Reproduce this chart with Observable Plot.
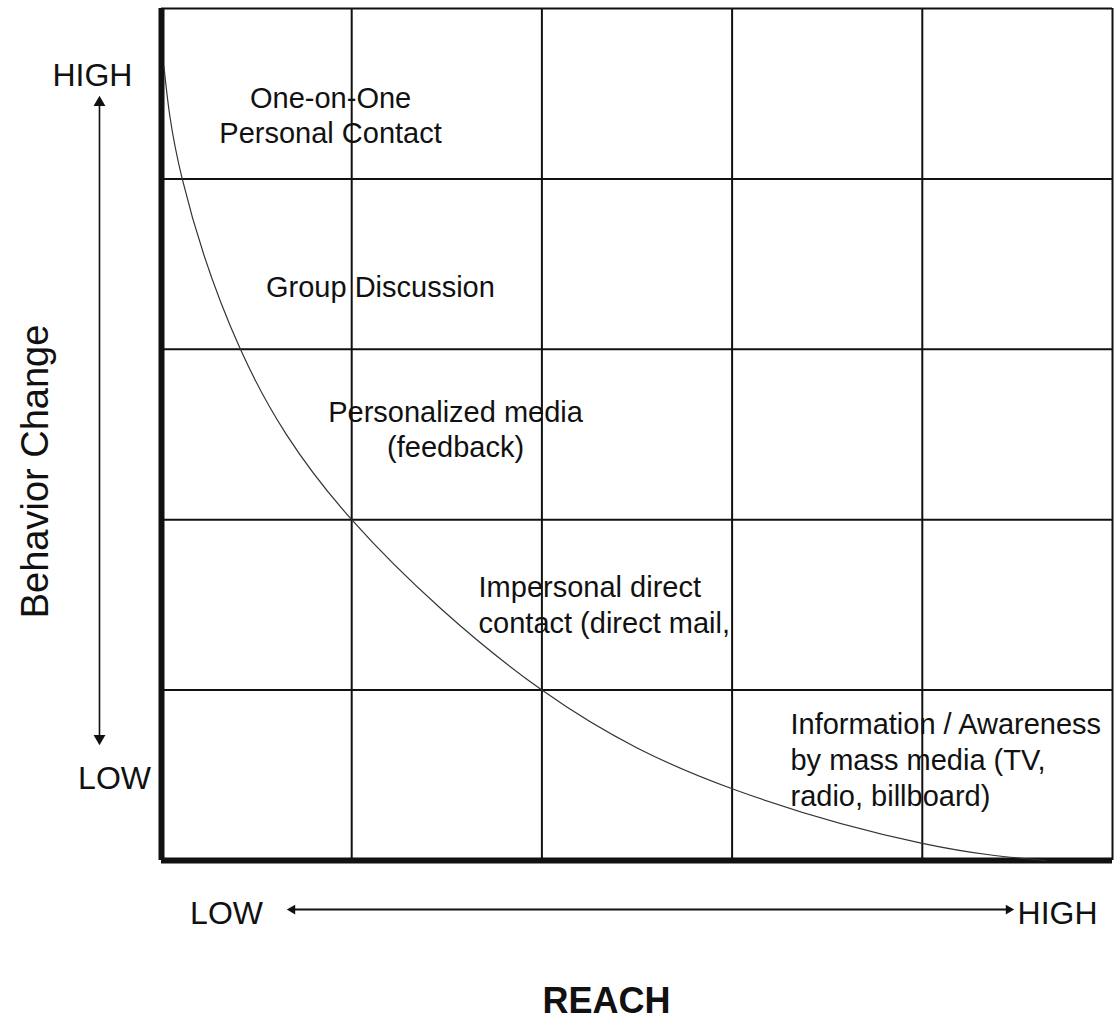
<!DOCTYPE html>
<html>
<head>
<meta charset="utf-8">
<script src="https://cdn.jsdelivr.net/npm/d3@7"></script>
<script src="https://cdn.jsdelivr.net/npm/@observablehq/plot@0.6"></script>
<style>
  html, body { margin: 0; padding: 0; background: #fff; }
  #chart svg { display: block; }
</style>
</head>
<body>
<div id="chart"></div>
<script>
// Grid divisions (5 x 5 cells)
const gridX = [1, 2, 3, 4, 5];
const gridY = [1, 2, 3, 4, 5];

// Trade-off curve: reach (x) vs behaviour change (y)
const curveX = [0.013, 0.109, 0.415, 1.0, 2.0, 3.0, 4.0, 4.65];
const curveY = [4.66, 4.0, 3.0, 2.0, 1.0, 0.421, 0.101, 0.0];

// Cell labels
const centeredLabels = ["One-on-One\nPersonal Contact", "Group Discussion", "Personalized media\n(feedback)"];
const centeredX = [0.889, 1.151, 1.546];
const centeredY = [4.381, 3.374, 2.538];
const leftLabels = ["Impersonal direct\ncontact (direct mail,", "Information / Awareness\nby mass media (TV,\nradio, billboard)"];
const leftX = [1.667, 3.307];
const leftY = [1.508, 0.599];

// Axis annotation labels
const axisLabels = ["HIGH", "LOW", "LOW", "HIGH"];
const axisLabelX = [-0.363, -0.247, 0.342, 4.711];
const axisLabelY = [4.607, 0.481, -0.311, -0.311];
const xTitle = "REACH";
const yTitle = "Behavior Change";

// Arrow extents
const vArrow = {x: -0.326, yLow: 0.675, yHigh: 4.489};
const hArrow = {y: -0.288, xLow: 0.662, xHigh: 4.48};

const curve = curveX.map((x, i) => ({x, y: curveY[i]}));
const centered = centeredLabels.map((t, i) => ({t, x: centeredX[i], y: centeredY[i]}));
const lefts = leftLabels.map((t, i) => ({t, x: leftX[i], y: leftY[i]}));
const axl = axisLabels.map((t, i) => ({t, x: axisLabelX[i], y: axisLabelY[i]}));

const ink = "#111";
const font = "Liberation Sans, Arial, sans-serif";

const chart = Plot.plot({
  width: 1114,
  height: 1024,
  marginTop: 8,
  marginBottom: 164,
  marginLeft: 161,
  marginRight: 2,
  x: {domain: [0, 5], axis: null},
  y: {domain: [0, 5], axis: null},
  style: {fontFamily: font, background: "#fff", overflow: "visible"},
  marks: [
    Plot.ruleX(gridX, {y1: 0, y2: 5, stroke: ink, strokeWidth: 2}),
    Plot.ruleY(gridY, {x1: 0, x2: 5, stroke: ink, strokeWidth: 2}),
    Plot.ruleX([0], {y1: 0, y2: 5, stroke: ink, strokeWidth: 6}),
    Plot.ruleY([0], {x1: 0, x2: 5, stroke: ink, strokeWidth: 6}),
    Plot.line(curve, {x: "x", y: "y", curve: "natural", stroke: "#333", strokeWidth: 1.2}),
    Plot.text(centered, {x: "x", y: "y", text: "t", fontSize: 29, lineHeight: 1.2, fill: ink, textAnchor: "middle", lineAnchor: "middle"}),
    Plot.text(lefts, {x: "x", y: "y", text: "t", fontSize: 29, lineHeight: 1.24, fill: ink, textAnchor: "start", lineAnchor: "middle"}),
    Plot.text(axl, {x: "x", y: "y", text: "t", fontSize: 32, fill: ink, textAnchor: "middle", lineAnchor: "middle"}),
    Plot.text([xTitle], {x: 2.34, y: -0.827, text: d => d, fontSize: 36, fontWeight: "bold", fill: ink, textAnchor: "middle", lineAnchor: "middle"}),
    Plot.text([yTitle], {x: -0.663, y: 2.283, text: d => d, fontSize: 38, rotate: -90, fill: ink, textAnchor: "middle", lineAnchor: "middle"}),
    // vertical double arrow
    Plot.link([vArrow], {x1: "x", x2: "x", y1: d => d.yLow + 0.04, y2: d => d.yHigh - 0.04, stroke: ink, strokeWidth: 1.6}),
    Plot.dot([vArrow], {x: "x", y: "yHigh", symbol: "triangle", r: 4.4, fill: ink, stroke: null, dy: 7}),
    Plot.dot([vArrow], {x: "x", y: "yLow", symbol: "triangle", r: 4.4, fill: ink, stroke: null, rotate: 180, dy: -7}),
    // horizontal double arrow
    Plot.link([hArrow], {y1: "y", y2: "y", x1: d => d.xLow + 0.03, x2: d => d.xHigh - 0.03, stroke: ink, strokeWidth: 2}),
    Plot.dot([hArrow], {x: "xHigh", y: "y", symbol: "triangle", r: 3.6, fill: ink, stroke: null, rotate: 90, dx: -5}),
    Plot.dot([hArrow], {x: "xLow", y: "y", symbol: "triangle", r: 3.6, fill: ink, stroke: null, rotate: -90, dx: 5})
  ]
});
document.getElementById("chart").appendChild(chart);
</script>
</body>
</html>
